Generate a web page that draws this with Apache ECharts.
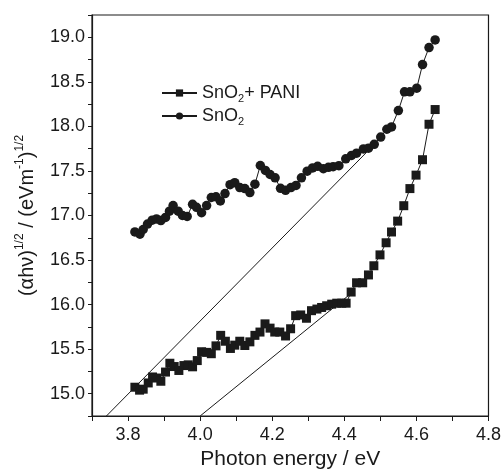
<!DOCTYPE html>
<html>
<head>
<meta charset="utf-8">
<script src="https://cdn.jsdelivr.net/npm/echarts@6/dist/echarts.min.js"></script>
<style>
html,body{margin:0;padding:0;background:#fff;}
#chart{width:504px;height:475px;}
</style>
</head>
<body>
<div id="chart"></div>
<script>
// SnO2 + PANI (squares)
const xPani = [3.819,3.832,3.842,3.856,3.868,3.879,3.891,3.904,3.916,3.928,
  3.941,3.955,3.967,3.979,3.992,4.004,4.018,4.031,4.044,4.057,
  4.070,4.084,4.096,4.110,4.124,4.138,4.152,4.166,4.180,4.194,
  4.207,4.221,4.237,4.251,4.265,4.279,4.295,4.309,4.324,4.337,
  4.351,4.365,4.379,4.393,4.405,4.419,4.434,4.451,4.467,4.482,
  4.499,4.516,4.531,4.548,4.565,4.582,4.599,4.617,4.635,4.652];
const yPani = [15.073,15.040,15.051,15.121,15.188,15.176,15.140,15.243,15.342,15.305,
  15.261,15.316,15.324,15.302,15.372,15.471,15.464,15.449,15.537,15.655,
  15.589,15.508,15.545,15.589,15.541,15.582,15.655,15.692,15.784,15.736,
  15.692,15.692,15.648,15.729,15.876,15.884,15.847,15.932,15.950,15.968,
  15.987,16.005,16.016,16.016,16.016,16.141,16.245,16.245,16.333,16.436,
  16.558,16.694,16.815,16.937,17.110,17.302,17.453,17.626,18.024,18.189];
// SnO2 (circles)
const xSno = [3.819,3.833,3.842,3.854,3.867,3.879,3.891,3.904,3.915,3.925,
  3.939,3.951,3.964,3.979,3.990,4.004,4.018,4.031,4.044,4.056,
  4.069,4.083,4.096,4.110,4.124,4.138,4.152,4.167,4.181,4.194,
  4.208,4.223,4.237,4.252,4.266,4.281,4.297,4.312,4.326,4.342,
  4.356,4.369,4.385,4.404,4.420,4.434,4.453,4.467,4.483,4.501,
  4.518,4.531,4.550,4.567,4.582,4.601,4.617,4.635,4.652];
const ySno = [16.816,16.790,16.843,16.904,16.948,16.962,16.943,16.978,17.048,17.111,
  17.048,17.000,16.989,17.125,17.092,17.031,17.111,17.202,17.210,17.164,
  17.246,17.346,17.368,17.313,17.302,17.257,17.351,17.561,17.506,17.460,
  17.423,17.305,17.283,17.313,17.338,17.423,17.497,17.534,17.552,17.526,
  17.541,17.548,17.559,17.636,17.674,17.699,17.747,17.755,17.799,17.880,
  17.968,17.994,18.178,18.388,18.388,18.429,18.694,18.885,18.970];
// tangent (extrapolation) lines
const tan1X = [3.74, 4.462];
const tan1Y = [14.75, 17.71];
const tan2X = [4.0, 4.411];
const tan2Y = [14.75, 16.10];
// axes
const xMin = 3.7, xMax = 4.8, xStep = 0.1;
const yMin = 14.75, yMax = 19.25, yStep = 0.25;

const zip = (a, b) => a.map((v, i) => [v, b[i]]);
const FONT = "'Liberation Sans', Arial, Helvetica, sans-serif";
const INK = '#1a1a1a';

const chart = echarts.init(document.getElementById('chart'), null, {renderer: 'canvas'});
chart.setOption({
  animation: false,
  backgroundColor: '#fff',
  textStyle: {fontFamily: FONT},
  grid: {left: 92, right: 14, top: 15, bottom: 53, show: true, borderColor: INK, borderWidth: 1.2, backgroundColor: 'transparent'},
  legend: {
    left: 156, top: 79, orient: 'vertical', itemGap: 3, itemWidth: 35, itemHeight: 9,
    data: ['pani', 'sno'],
    formatter: n => n === 'pani' ? '{a|SnO}{s|2}{a|+ PANI}' : '{a|SnO}{s|2}',
    textStyle: {
      fontFamily: FONT, color: INK, fontSize: 18,
      rich: {
        a: {fontFamily: FONT, fontSize: 18, color: INK, lineHeight: 22},
        s: {fontFamily: FONT, fontSize: 11, color: INK, verticalAlign: 'bottom', lineHeight: 11}
      }
    }
  },
  xAxis: {
    type: 'value', min: xMin, max: xMax, interval: xStep,
    name: 'Photon energy / eV', nameLocation: 'middle', nameGap: 33,
    nameTextStyle: {fontFamily: FONT, fontSize: 21, color: INK},
    axisLine: {show: true, onZero: false, lineStyle: {color: INK, width: 1.2}},
    axisTick: {show: true, inside: false, length: 5, lineStyle: {color: INK, width: 1}},
    axisLabel: {
      margin: 10, fontFamily: FONT, fontSize: 18, color: INK,
      formatter: v => {
        const k = Math.round(v * 10);
        return (k % 2 === 0) ? (k / 10).toFixed(1) : '';
      }
    },
    splitLine: {show: false}
  },
  yAxis: {
    type: 'value', min: yMin, max: yMax, interval: yStep,
    name: '{t|(αhν)}{u|1/2}{t| / (eVm}{u|-1}{t|)}{u|1/2}',
    nameLocation: 'middle', nameGap: 52, nameRotate: 90,
    nameTextStyle: {
      fontFamily: FONT, fontSize: 20, color: INK,
      rich: {
        t: {fontFamily: FONT, fontSize: 20, color: INK, lineHeight: 26},
        u: {fontFamily: FONT, fontSize: 12, color: INK, verticalAlign: 'top', lineHeight: 12}
      }
    },
    axisLine: {show: true, onZero: false, lineStyle: {color: INK, width: 1.2}},
    axisTick: {show: true, inside: false, length: 4, lineStyle: {color: INK, width: 1}},
    axisLabel: {
      margin: 7, fontFamily: FONT, fontSize: 18, color: INK,
      formatter: v => {
        const k = Math.round(v * 4);
        return (k % 2 === 0) ? (k / 4).toFixed(1) : '';
      }
    },
    splitLine: {show: false}
  },
  series: [
    {
      name: 'tan1', type: 'line', data: zip(tan1X, tan1Y), showSymbol: false, symbol: 'none',
      lineStyle: {color: INK, width: 1}, silent: true, z: 1
    },
    {
      name: 'tan2', type: 'line', data: zip(tan2X, tan2Y), showSymbol: false, symbol: 'none',
      lineStyle: {color: INK, width: 1}, silent: true, z: 1
    },
    {
      name: 'pani', type: 'line', data: zip(xPani, yPani),
      symbol: 'rect', symbolSize: 9, itemStyle: {color: INK},
      lineStyle: {color: INK, width: 1}, z: 3
    },
    {
      name: 'sno', type: 'line', data: zip(xSno, ySno),
      symbol: 'circle', symbolSize: 9.5, itemStyle: {color: INK},
      lineStyle: {color: INK, width: 1}, z: 3
    }
  ]
});
</script>
</body>
</html>
